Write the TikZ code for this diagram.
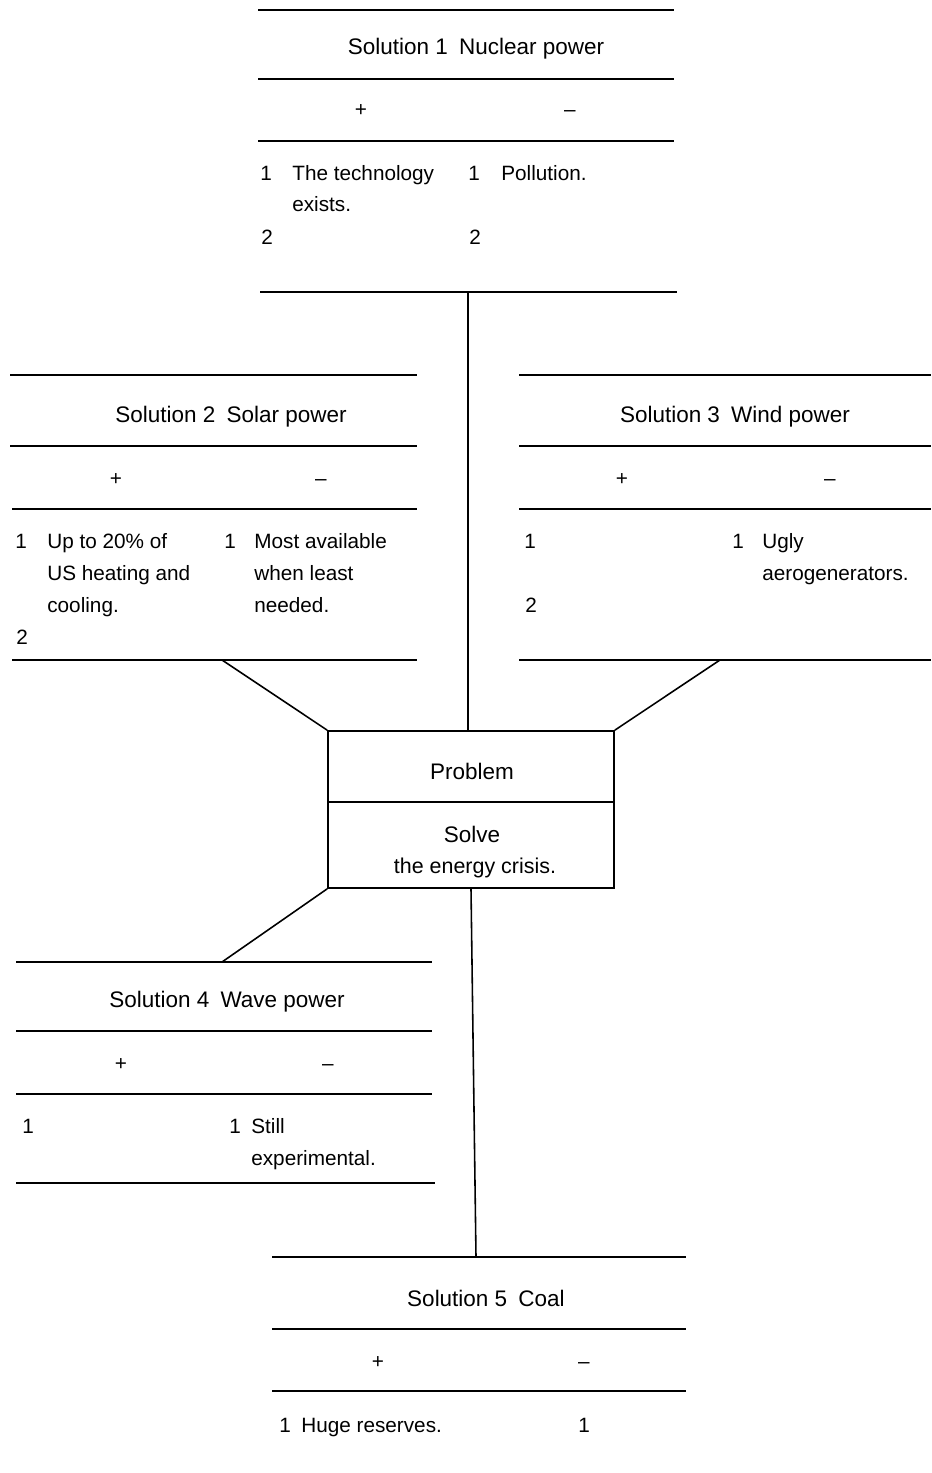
\documentclass[tikz,border=0pt]{standalone}
\usepackage{fontspec}
\setmainfont{Liberation Sans}
\begin{document}
\begin{tikzpicture}[x=0.02cm,y=-0.02cm,
  rule/.style={line width=1pt},
  link/.style={line width=0.9pt},
  head/.style={font=\fontsize{12.8}{15}\selectfont,anchor=base,inner sep=0pt},
  cell/.style={font=\fontsize{11.8}{14}\selectfont,anchor=base west,inner sep=0pt},
  sign/.style={font=\fontsize{11.8}{14}\selectfont,anchor=base,inner sep=0pt}]
\useasboundingbox (0,0) rectangle (931,1473);

% Solution 1
\draw[rule] (258,10) -- (674,10);
\draw[rule] (258,79) -- (674,79);
\draw[rule] (258,141) -- (674,141);
\draw[rule] (260,292) -- (677,292);
\node[head] (s1t) at (476,55) {Solution 1\enspace Nuclear power};
\node[sign] (s1p) at (361,117) {+};
\node[sign] (s1m) at (570,117) {--};
\node[cell] (s1n1) at (260,181) {1};
\node[cell] (s1a) at (292,181) {The technology};
\node[cell] (s1b) at (292,212) {exists.};
\node[cell] (s1n2) at (261,244) {2};
\node[cell] (s1n3) at (468,181) {1};
\node[cell] (s1c) at (501,181) {Pollution.};
\node[cell] (s1n4) at (469,244) {2};
\coordinate (s1foot) at (468,292);

% Solution 2
\draw[rule] (10,375) -- (417,375);
\draw[rule] (10,446) -- (417,446);
\draw[rule] (12,509) -- (417,509);
\draw[rule] (12,660) -- (417,660);
\node[head] (s2t) at (231,422) {Solution 2\enspace Solar power};
\node[sign] (s2p) at (116,485) {+};
\node[sign] (s2m) at (321,485) {--};
\node[cell] (s2n1) at (15,548) {1};
\node[cell] (s2a) at (47,548) {Up to 20\% of};
\node[cell] (s2b) at (47,580) {US heating and};
\node[cell] (s2c) at (47,612) {cooling.};
\node[cell] (s2n2) at (16,644) {2};
\node[cell] (s2n3) at (224,548) {1};
\node[cell] (s2d) at (254,548) {Most available};
\node[cell] (s2e) at (254,580) {when least};
\node[cell] (s2f) at (254,612) {needed.};
\coordinate (s2foot) at (222,660);

% Solution 3
\draw[rule] (519,375) -- (931,375);
\draw[rule] (519,446) -- (931,446);
\draw[rule] (519,509) -- (931,509);
\draw[rule] (519,660) -- (931,660);
\node[head] (s3t) at (735,422) {Solution 3\enspace Wind power};
\node[sign] (s3p) at (622,485) {+};
\node[sign] (s3m) at (830,485) {--};
\node[cell] (s3n1) at (524,548) {1};
\node[cell] (s3n2) at (525,612) {2};
\node[cell] (s3n3) at (732,548) {1};
\node[cell] (s3a) at (762,548) {Ugly};
\node[cell] (s3b) at (762,580) {aerogenerators.};
\coordinate (s3foot) at (720,660);

% Problem
\node[draw,line width=1pt,minimum width=5.72cm,minimum height=3.14cm,inner sep=0pt] (prob) at (471,809.5) {};
\draw[rule] (328,802) -- (614,802);
\node[head] (probt) at (472,779) {Problem};
\node[head] (proba) at (472,842) {Solve};
\node[head,font=\fontsize{12.2}{15}\selectfont] (probb) at (475,873) {the energy crisis.};

% Solution 4
\draw[rule] (16,962) -- (432,962);
\draw[rule] (16,1031) -- (432,1031);
\draw[rule] (16,1094) -- (432,1094);
\draw[rule] (16,1183) -- (435,1183);
\node[head] (s4t) at (227,1007) {Solution 4\enspace Wave power};
\node[sign] (s4p) at (121,1070) {+};
\node[sign] (s4m) at (328,1070) {--};
\node[cell] (s4n1) at (22,1133) {1};
\node[cell] (s4n2) at (229,1133) {1};
\node[cell] (s4a) at (251,1133) {Still};
\node[cell] (s4b) at (251,1165) {experimental.};
\coordinate (s4top) at (222,962);

% Solution 5
\draw[rule] (272,1257) -- (686,1257);
\draw[rule] (272,1329) -- (686,1329);
\draw[rule] (272,1391) -- (686,1391);
\node[head] (s5t) at (486,1306) {Solution 5\enspace Coal};
\node[sign] (s5p) at (378,1368) {+};
\node[sign] (s5m) at (584,1368) {--};
\node[cell] (s5n1) at (279,1432) {1};
\node[cell] (s5a) at (301,1432) {Huge reserves.};
\node[cell] (s5n2) at (578,1432) {1};
\coordinate (s5top) at (476,1257);

% links to the problem
\draw[link] (s1foot) -- (s1foot |- prob.north);
\draw[link] (s2foot) -- (prob.north west);
\draw[link] (s3foot) -- (prob.north east);
\draw[link] (prob.south west) -- (s4top);
\draw[link] (prob.south) -- (s5top);
\end{tikzpicture}
\end{document}
